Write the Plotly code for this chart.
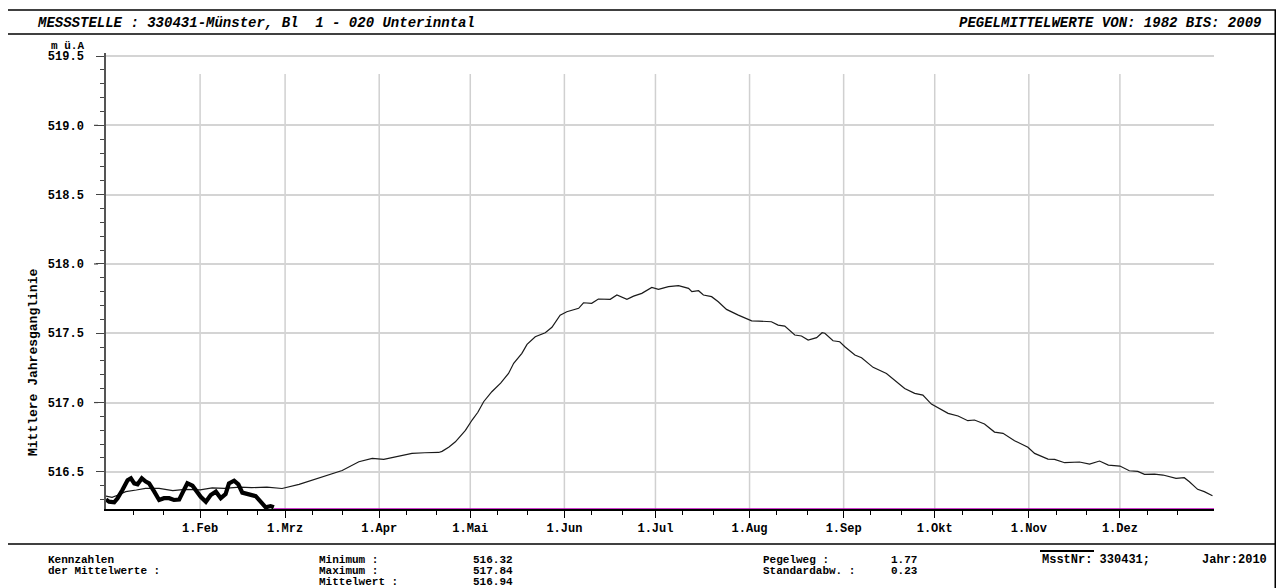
import plotly.graph_objects as go

# ---------------- data ----------------
month_labels = ["1.Feb", "1.Mrz", "1.Apr", "1.Mai", "1.Jun", "1.Jul",
                "1.Aug", "1.Sep", "1.Okt", "1.Nov", "1.Dez"]
month_days = [31, 59, 90, 120, 151, 181, 212, 243, 273, 304, 334]
all_month_starts = [0] + month_days

mean_days = [0, 2, 4, 6.5, 10, 13, 17.5, 22, 26, 31, 35, 39, 44, 48, 53, 58,
             63.6, 68.5, 73, 77.8, 83.3, 87.7, 91.5, 96.4, 100.8, 105, 109.6,
             110.7, 113, 115.1, 118.4, 120.6, 122.5, 124.4, 127.1, 130, 132.6,
             134.3, 137, 138.7, 141.4, 144.7, 146.9, 149.6, 151.8, 155.7, 157.3,
             160, 162.2, 166.1, 168.3, 171.6, 173.8, 176.5, 179.8, 182, 185.3,
             188.6, 191.9, 193, 195.2, 196.8, 199.5, 201.7, 204.4, 208.3, 212.7,
             215, 219.2, 221.4, 223.6, 226.9, 229.1, 231.3, 234.1, 235.9, 236.8,
             239.5, 241.7, 243.4, 246.7, 248.9, 252.7, 257.1, 259.8, 263.1,
             266.4, 269.1, 271.9, 273.5, 277.4, 280.7, 283.9, 286.1, 289.4,
             292.7, 295.5, 299.3, 303.7, 305.9, 310.3, 312.5, 315.8, 320.7, 324,
             327.3, 330.2, 334, 337.1, 339.9, 342.1, 345.4, 348.2, 352.5, 355.2,
             356.9, 359.6, 361.8, 364.5]
mean_vals = [516.325, 516.316, 516.333, 516.357, 516.369, 516.381, 516.381,
             516.364, 516.374, 516.37, 516.385, 516.381, 516.39, 516.386,
             516.39, 516.38, 516.41, 516.446, 516.48, 516.51, 516.573, 516.597,
             516.59, 516.61, 516.633, 516.638, 516.64, 516.648, 516.68, 516.717,
             516.80, 516.874, 516.93, 517.006, 517.078, 517.14, 517.21, 517.283,
             517.355, 517.42, 517.475, 517.504, 517.543, 517.631, 517.655,
             517.68, 517.72, 517.716, 517.747, 517.745, 517.776, 517.745,
             517.768, 517.788, 517.831, 517.817, 517.836, 517.843, 517.824,
             517.80, 517.807, 517.776, 517.764, 517.727, 517.672, 517.631,
             517.59, 517.588, 517.583, 517.559, 517.552, 517.487, 517.48,
             517.451, 517.468, 517.504, 517.50, 517.446, 517.439, 517.403,
             517.343, 517.323, 517.254, 517.21, 517.162, 517.102, 517.066,
             517.054, 516.989, 516.97, 516.922, 516.903, 516.869, 516.874,
             516.845, 516.787, 516.778, 516.725, 516.677, 516.633, 516.592,
             516.59, 516.566, 516.571, 516.556, 516.578, 516.549, 516.542,
             516.508, 516.503, 516.482, 516.484, 516.477, 516.453, 516.458,
             516.429, 516.374, 516.357, 516.328]

year_days = [0, 1, 2.7, 3.8, 5.4, 7.1, 8.2, 9.3, 10.4, 11.8, 13.1, 14.2, 15.9,
             17.5, 19.1, 20.8, 22.4, 24.1, 25.4, 26.8, 28.5, 29.8, 31.2, 32.9,
             34.5, 36.2, 37.8, 39.4, 40.5, 42.2, 43.6, 44.9, 47.1, 49.3, 51,
             52.6, 54.2, 55.3]
year_vals = [516.30, 516.285, 516.28, 516.31, 516.369, 516.44, 516.453,
             516.417, 516.41, 516.453, 516.43, 516.417, 516.357, 516.297,
             516.31, 516.31, 516.297, 516.30, 516.357, 516.417, 516.40,
             516.357, 516.32, 516.284, 516.333, 516.357, 516.31, 516.34,
             516.417, 516.436, 516.41, 516.35, 516.34, 516.325, 516.284,
             516.244, 516.253, 516.244]

y_tick_vals = [516.5, 517.0, 517.5, 518.0, 518.5, 519.0, 519.5]
y_tick_text = ["516.5", "517.0", "517.5", "518.0", "518.5", "519.0", "519.5"]
y_range = [516.232, 519.522]
x_range = [0, 365]

header_left = "MESSSTELLE : 330431-Münster, Bl\u00a0\u00a01 - 020 Unterinntal"
header_right = "PEGELMITTELWERTE VON: 1982 BIS: 2009"
y_title = "Mittlere Jahresganglinie"
unit_label = "m ü.A"
stat_block_title = ["Kennzahlen", "der Mittelwerte :"]
stat_names_1 = ["Minimum :", "Maximum :", "Mittelwert :"]
stat_vals_1 = ["516.32", "517.84", "516.94"]
stat_names_2 = ["Pegelweg :", "Standardabw. :"]
stat_vals_2 = ["1.77", "0.23"]
id_text_1 = "MsstNr: 330431;"
id_text_2 = "Jahr:2010"

# ---------------- layout geometry ----------------
# page body has an 8px margin; work in window pixels and convert
OFF = 8
W, H = 1284 - OFF, 588 - OFF
PLOT_L, PLOT_R, PLOT_T, PLOT_B = 106, 1214, 53, 509   # window pixels
ML = PLOT_L - OFF
MT = PLOT_T - OFF
MR = W - (PLOT_R - OFF)
MB = H - (PLOT_B - OFF)
PW, PH = W - ML - MR, H - MT - MB


def px(x):
    return (x - OFF - ML) / PW


def py(y):
    return (H - MB - (y - OFF)) / PH


FONT = "Liberation Mono, Courier New, monospace"

fig = go.Figure()

fig.add_trace(go.Scatter(x=mean_days, y=mean_vals, mode="lines",
                         line=dict(color="#1a1a1a", width=1.2),
                         hoverinfo="skip", showlegend=False))
fig.add_trace(go.Scatter(x=year_days, y=year_vals, mode="lines",
                         line=dict(color="#000000", width=4.2),
                         hoverinfo="skip", showlegend=False))
# magenta placeholder line for the remainder of the current year
fig.add_trace(go.Scatter(x=[year_days[-1], x_range[1]], y=[y_range[0], y_range[0]],
                         mode="lines", line=dict(color="#c000c0", width=1.5),
                         cliponaxis=False, hoverinfo="skip", showlegend=False))

minor_x = []
for m in all_month_starts:
    minor_x += [m + 9, m + 19]

fig.update_xaxes(range=x_range, tickmode="array", tickvals=month_days,
                 ticktext=month_labels, ticks="outside", ticklen=7,
                 tickwidth=1.2, tickcolor="#000", showline=True,
                 linecolor="#000", linewidth=1.5, showgrid=False,
                 zeroline=False,
                 tickfont=dict(family=FONT, size=12, color="#000", weight="bold"),
                 minor=dict(tickmode="array", tickvals=minor_x, ticks="outside",
                            ticklen=4, tickcolor="#000", tickwidth=1, showgrid=False))
fig.update_yaxes(range=y_range, tickmode="array", tickvals=y_tick_vals,
                 ticktext=y_tick_text, ticks="outside", ticklen=8,
                 tickwidth=1.2, tickcolor="#444", showline=True,
                 linecolor="#555", linewidth=1.5, showgrid=True,
                 gridcolor="#d4d4d4", gridwidth=1.5, zeroline=False,
                 ticklabelstandoff=10,
                 tickfont=dict(family=FONT, size=12, color="#000", weight="bold"),
                 minor=dict(dtick=0.1, tick0=516.5, ticks="outside", ticklen=4,
                            tickcolor="#444", tickwidth=1, showgrid=False))

shapes = []
# vertical month gridlines (start slightly below top)
for d in month_days:
    shapes.append(dict(type="line", xref="x", yref="paper", x0=d, x1=d,
                       y0=0, y1=py(74), line=dict(color="#d0d0d0", width=1.5),
                       layer="below"))
# longer ticks at whole metres
for v in [517.0, 518.0, 519.0]:
    shapes.append(dict(type="line", xref="paper", yref="y", x0=px(94), x1=px(98),
                       y0=v, y1=v, line=dict(color="#444", width=1.2)))
# frame
frame = dict(color="#000", width=1.5)
shapes += [
    dict(type="line", xref="paper", yref="paper", x0=px(7), x1=px(1276), y0=py(10), y1=py(10), line=frame),
    dict(type="line", xref="paper", yref="paper", x0=px(7), x1=px(7), y0=py(10), y1=py(600), line=frame),
    dict(type="line", xref="paper", yref="paper", x0=px(1276), x1=px(1276), y0=py(10), y1=py(600), line=dict(color="#000", width=3)),
    dict(type="line", xref="paper", yref="paper", x0=px(7), x1=px(1276), y0=py(34), y1=py(34), line=frame),
    dict(type="line", xref="paper", yref="paper", x0=px(7), x1=px(1276), y0=py(544), y1=py(544), line=frame),
    dict(type="line", xref="paper", yref="paper", x0=px(1040), x1=px(1094), y0=py(551), y1=py(551), line=dict(color="#000", width=2)),
]

annotations = []


def txt(s, x, y, anchor="left", size=12, italic=False, bold=True, angle=0):
    annotations.append(dict(text=s, xref="paper", yref="paper", x=px(x), y=py(y),
                            xanchor=anchor, yanchor="middle", showarrow=False,
                            textangle=angle,
                            font=dict(family=FONT, size=size, color="#000",
                                      weight="bold" if bold else "normal",
                                      style="italic" if italic else "normal")))


txt(header_left, 35, 23, "left", size=14, italic=True)
txt(header_right, 1263, 23, "right", size=14, italic=True)
txt(unit_label, 86, 46, "right", size=11)
txt(y_title, 33, 362, "center", size=13, angle=-90)

rows = [560, 571, 582]
for i, s in enumerate(stat_block_title):
    txt(s, 46, rows[i], "left", size=11)
for i, s in enumerate(stat_names_1):
    txt(s, 317, rows[i], "left", size=11)
for i, s in enumerate(stat_vals_1):
    txt(s, 471, rows[i], "left", size=11)
for i, s in enumerate(stat_names_2):
    txt(s, 761, rows[i], "left", size=11)
for i, s in enumerate(stat_vals_2):
    txt(s, 889, rows[i], "left", size=11)
txt(id_text_1, 1040, 560, "left", size=12)
txt(id_text_2, 1269, 560, "right", size=12)

fig.update_layout(width=W, height=H, autosize=False,
                  margin=dict(l=ML, r=MR, t=MT, b=MB, pad=0),
                  paper_bgcolor="#fff", plot_bgcolor="#fff",
                  shapes=shapes, annotations=annotations, showlegend=False)

fig.write_html("out.html")
